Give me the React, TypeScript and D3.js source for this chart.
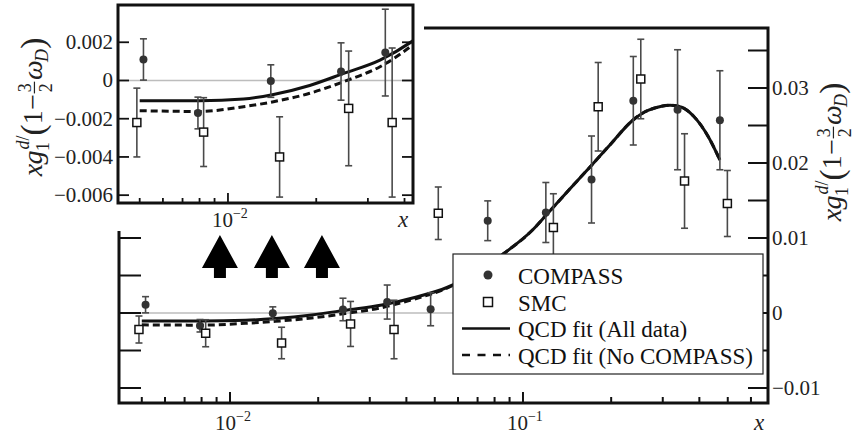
import React from 'react';
import * as d3 from 'd3';

// ---------- data ----------
const compassX = [0.00515, 0.0079, 0.014, 0.0243, 0.0344, 0.0484, 0.0758, 0.1197, 0.1714, 0.238, 0.337, 0.47];
const compassY = [0.0011, -0.0017, -0.00003, 0.00047, 0.00146, 0.0005, 0.0123, 0.0134, 0.0178, 0.0283, 0.0271, 0.0257];
const compassErr = [0.00108, 0.00083, 0.00085, 0.0015, 0.00227, 0.0022, 0.00265, 0.004, 0.0058, 0.0059, 0.008, 0.0066];

const smcX = [0.00489, 0.00826, 0.015, 0.0258, 0.0363, 0.0514, 0.127, 0.1806, 0.2524, 0.356, 0.4985];
const smcY = [-0.0022, -0.0027, -0.004, -0.00146, -0.0022, 0.0133, 0.0114, 0.0275, 0.0312, 0.0176, 0.0146];
const smcErr = [0.0018, 0.0018, 0.0021, 0.003, 0.0039, 0.0035, 0.0045, 0.0059, 0.0053, 0.0063, 0.0044];

const fitX = [0.005, 0.008, 0.0113, 0.0143, 0.019, 0.0248, 0.033, 0.043, 0.055, 0.0677, 0.0858, 0.108, 0.1197, 0.145, 0.1715, 0.198, 0.237, 0.26, 0.28, 0.3177, 0.35, 0.381, 0.432, 0.47];
const fitAll = [-0.00106, -0.00106, -0.00097, -0.00073, -0.00026, 0.00037, 0.00107, 0.0021, 0.0034, 0.0052, 0.0079, 0.0111, 0.013, 0.0166, 0.0197, 0.0224, 0.0257, 0.0268, 0.0273, 0.0277, 0.0274, 0.0263, 0.0233, 0.0204];
const fitNoCompass = [-0.00158, -0.00162, -0.00137, -0.00111, -0.00067, -0.00006, 0.00072, 0.0019, 0.0033, 0.0052, 0.0079, 0.0111, 0.013, 0.0166, 0.0197, 0.0224, 0.0257, 0.0268, 0.0273, 0.0277, 0.0274, 0.0263, 0.0233, 0.0204];

const arrowX = [0.00924, 0.0139, 0.0206];
const arrowTipY = 0.0104;

const mainTickVals = [-0.01, -0.005, 0, 0.005, 0.01, 0.015, 0.02, 0.025, 0.03, 0.035];
const mainLabelVals = [-0.01, 0, 0.01, 0.02, 0.03];
const mainLabelText = ['\u22120.01', '0', '0.01', '0.02', '0.03'];
const insetTickVals = [-0.006, -0.004, -0.002, 0, 0.002];
const insetLabelText = ['\u22120.006', '\u22120.004', '\u22120.002', '0', '0.002'];

const legendLabels = ['COMPASS', 'SMC', 'QCD fit (All data)', 'QCD fit (No COMPASS)'];

const FAM = '"Times New Roman"';
const BAR = '#4a4a4a';
const DOT = '#333';
const TXT = '#222';

function logTicks(dom: number[]) {
  const out: { v: number; major: boolean }[] = [];
  for (let e = -3; e <= 0; e++) {
    for (let m = 1; m <= 9; m++) {
      const v = m * Math.pow(10, e);
      if (v >= dom[0] * 1.0001 && v <= dom[1] * 0.9999) out.push({ v, major: m === 1 });
    }
  }
  return out;
}

function T(props: any) {
  const { children, ...rest } = props;
  return (
    <text fill={TXT} {...rest} style={{ fontFamily: FAM }}>
      {children}
    </text>
  );
}

function YLabel({ cx, cy, fs }: { cx: number; cy: number; fs: number }) {
  const L = 4.95;
  const o = -L / 2;
  const s = 0.64;
  const X = (v: number) => (o + v) * fs;
  const Y = (v: number) => v * fs;
  return (
    <g transform={`translate(${cx},${cy}) rotate(-90)`}>
      <T x={X(0)} y={0} fontSize={fs} fontStyle="italic">x</T>
      <T x={X(0.42)} y={0} fontSize={fs} fontStyle="italic">g</T>
      <T x={X(0.9)} y={Y(0.25)} fontSize={fs * s}>1</T>
      <T x={X(0.96)} y={Y(-0.45)} fontSize={fs * s} fontStyle="italic">d</T>
      <T x={X(1.28)} y={Y(-0.45)} fontSize={fs * s}>/</T>
      <T x={X(1.46)} y={Y(0.08)} fontSize={fs * 1.2}>(</T>
      <T x={X(1.86)} y={0} fontSize={fs}>1</T>
      <T x={X(2.38)} y={0} fontSize={fs}>{'\u2212'}</T>
      <T x={X(3.0)} y={Y(-0.38)} fontSize={fs * s}>3</T>
      <line x1={X(2.96)} x2={X(3.38)} y1={Y(-0.27)} y2={Y(-0.27)} stroke={TXT} strokeWidth={1.2} />
      <T x={X(3.0)} y={Y(0.36)} fontSize={fs * s}>2</T>
      <T x={X(3.44)} y={0} fontSize={fs} fontStyle="italic">{'\u03c9'}</T>
      <T x={X(4.08)} y={Y(0.22)} fontSize={fs * s} fontStyle="italic">D</T>
      <T x={X(4.56)} y={Y(0.08)} fontSize={fs * 1.2}>)</T>
    </g>
  );
}

function Points({ xs, ys, es, xsc, ysc, kind }: any) {
  return (
    <g>
      {xs.map((xv: number, i: number) => {
        const px = xsc(xv);
        const y0 = ysc(ys[i] - es[i]);
        const y1 = ysc(ys[i] + es[i]);
        return (
          <g key={i}>
            <line x1={px} x2={px} y1={y0} y2={y1} stroke={BAR} strokeWidth={1.6} />
            <line x1={px - 3.5} x2={px + 3.5} y1={y0} y2={y0} stroke={BAR} strokeWidth={1.6} />
            <line x1={px - 3.5} x2={px + 3.5} y1={y1} y2={y1} stroke={BAR} strokeWidth={1.6} />
          </g>
        );
      })}
      {xs.map((xv: number, i: number) => {
        const px = xsc(xv);
        const py = ysc(ys[i]);
        return kind === 'dot' ? (
          <circle key={'m' + i} cx={px} cy={py} r={4} fill={DOT} />
        ) : (
          <rect key={'m' + i} x={px - 4} y={py - 4} width={8} height={8} fill="#fff" stroke="#111" strokeWidth={1.5} />
        );
      })}
    </g>
  );
}

export default function App() {
  const xM = d3.scaleLog().domain([0.00418, 0.686]).range([119, 768]);
  const yM = d3.scaleLinear().domain([-0.012, 0.038]).range([403, 28]);
  const xI = d3.scaleLog().domain([Math.pow(10, -2.375), Math.pow(10, -1.369)]).range([118, 413]);
  const yI = d3.scaleLinear().domain([-0.00641, 0.00395]).range([203, 5]);

  const mkLine = (xs: number[], ys: number[], xsc: any, ysc: any) =>
    d3
      .line<number>()
      .x((i) => xsc(xs[i]))
      .y((i) => ysc(ys[i]))
      .curve(d3.curveMonotoneX)(xs.map((_, i) => i)) as string;

  const mainXT = logTicks(xM.domain());
  const insetXT = logTicks(xI.domain());

  const [mx0, mx1] = xM.range();
  const [my0, my1] = yM.range();
  const [ix0, ix1] = xI.range();
  const [iy0, iy1] = yI.range();

  const insetCoverR = 424;
  const insetCoverB = 231;

  const arrowPath = (cx: number, ty: number) =>
    `M${cx},${ty} L${cx + 18},${ty + 33} L${cx + 6},${ty + 33} L${cx + 6},${ty + 43} L${cx - 6},${ty + 43} L${cx - 6},${ty + 33} L${cx - 18},${ty + 33} Z`;

  const legRows = [275, 302, 328.5, 355];

  return (
    <svg width={863} height={437} style={{ position: 'absolute', left: 0, top: 0 }}>
      <defs>
        <clipPath id="clipMain">
          <rect x={mx0} y={my1} width={mx1 - mx0} height={my0 - my1} />
        </clipPath>
        <clipPath id="clipInset">
          <rect x={ix0} y={iy1} width={ix1 - ix0} height={iy0 - iy1} />
        </clipPath>
      </defs>
      <rect x={0} y={0} width={863} height={437} fill="#fff" />

      {/* ---------- main plot ---------- */}
      <line x1={mx0} x2={mx1} y1={yM(0)} y2={yM(0)} stroke="#bdbdbd" strokeWidth={1.5} />
      <g clipPath="url(#clipMain)">
        <path d={mkLine(fitX, fitNoCompass, xM, yM)} fill="none" stroke="#111" strokeWidth={3} strokeDasharray="7,4" />
        <path d={mkLine(fitX, fitAll, xM, yM)} fill="none" stroke="#111" strokeWidth={3} />
        <Points xs={compassX} ys={compassY} es={compassErr} xsc={xM} ysc={yM} kind="dot" />
        <Points xs={smcX} ys={smcY} es={smcErr} xsc={xM} ysc={yM} kind="sq" />
      </g>

      {mainXT.map((t, i) => (
        <line key={'mx' + i} x1={xM(t.v)} x2={xM(t.v)} y1={my0} y2={my0 - (t.major ? 11 : 6)} stroke="#111" strokeWidth={2} />
      ))}
      {mainTickVals.map((v, i) => (
        <line key={'mr' + i} x1={mx1} x2={mx1 - 20} y1={yM(v)} y2={yM(v)} stroke="#111" strokeWidth={2} />
      ))}
      {mainTickVals.filter((v) => yM(v) > insetCoverB).map((v, i) => (
        <line key={'ml' + i} x1={mx0} x2={mx0 + 22} y1={yM(v)} y2={yM(v)} stroke="#111" strokeWidth={2} />
      ))}
      <path d={`M${mx0},${insetCoverB} V${my0} H${mx1} V${my1} H${insetCoverR}`} fill="none" stroke="#111" strokeWidth={3} />

      {mainLabelVals.map((v, i) => (
        <T key={'mlab' + i} x={mx1 + 4} y={yM(v) + 7} fontSize={21}>{mainLabelText[i]}</T>
      ))}
      <T x={xM(0.01) - 15} y={430} fontSize={21}>10<tspan fontSize={14} dy={-9}>{'\u22122'}</tspan></T>
      <T x={xM(0.1) - 16} y={430} fontSize={21}>10<tspan fontSize={14} dy={-9}>{'\u22121'}</tspan></T>
      <T x={754} y={430} fontSize={23} fontStyle="italic">x</T>
      <YLabel cx={841} cy={152} fs={28} />

      {arrowX.map((v, i) => (
        <path key={'ar' + i} d={arrowPath(xM(v), yM(arrowTipY))} fill="#000" />
      ))}

      {/* legend */}
      <rect x={453} y={254} width={310} height={120} fill="#fff" stroke="#222" strokeWidth={1.2} />
      <circle cx={488} cy={legRows[0]} r={4.5} fill={DOT} />
      <rect x={483.5} y={legRows[1] - 4.5} width={9} height={9} fill="#fff" stroke="#111" strokeWidth={1.5} />
      <line x1={462} x2={510} y1={legRows[2]} y2={legRows[2]} stroke="#111" strokeWidth={2.5} />
      <line x1={462} x2={510} y1={legRows[3]} y2={legRows[3]} stroke="#111" strokeWidth={2.5} strokeDasharray="8,7.5" />
      {legendLabels.map((t, i) => (
        <T key={'lg' + i} x={518} y={legRows[i] + 8.5} fontSize={23} fill="#111">{t}</T>
      ))}

      {/* ---------- inset ---------- */}
      <rect x={0} y={0} width={insetCoverR} height={insetCoverB} fill="#fff" />
      <line x1={ix0} x2={ix1} y1={yI(0)} y2={yI(0)} stroke="#bdbdbd" strokeWidth={1.5} />
      <g clipPath="url(#clipInset)">
        <path d={mkLine(fitX, fitNoCompass, xI, yI)} fill="none" stroke="#111" strokeWidth={3} strokeDasharray="7,4" />
        <path d={mkLine(fitX, fitAll, xI, yI)} fill="none" stroke="#111" strokeWidth={3} />
        <Points xs={compassX} ys={compassY} es={compassErr} xsc={xI} ysc={yI} kind="dot" />
        <Points xs={smcX} ys={smcY} es={smcErr} xsc={xI} ysc={yI} kind="sq" />
      </g>
      {insetXT.map((t, i) => (
        <line key={'ix' + i} x1={xI(t.v)} x2={xI(t.v)} y1={iy0} y2={iy0 - (t.major ? 10 : 5)} stroke="#111" strokeWidth={1.8} />
      ))}
      {insetTickVals.map((v, i) => (
        <g key={'iy' + i}>
          <line x1={ix0} x2={ix0 + 11} y1={yI(v)} y2={yI(v)} stroke="#111" strokeWidth={1.8} />
          <line x1={ix1} x2={ix1 - 11} y1={yI(v)} y2={yI(v)} stroke="#111" strokeWidth={1.8} />
          <T x={113} y={yI(v) + 7} fontSize={21} textAnchor="end">{insetLabelText[i]}</T>
        </g>
      ))}
      <rect x={ix0} y={iy1} width={ix1 - ix0} height={iy0 - iy1} fill="none" stroke="#111" strokeWidth={3} />
      <T x={xI(0.01) - 16} y={227} fontSize={21}>10<tspan fontSize={14} dy={-9}>{'\u22122'}</tspan></T>
      <T x={398} y={227} fontSize={23} fontStyle="italic">x</T>
      <YLabel cx={42} cy={107} fs={28} />
    </svg>
  );
}
